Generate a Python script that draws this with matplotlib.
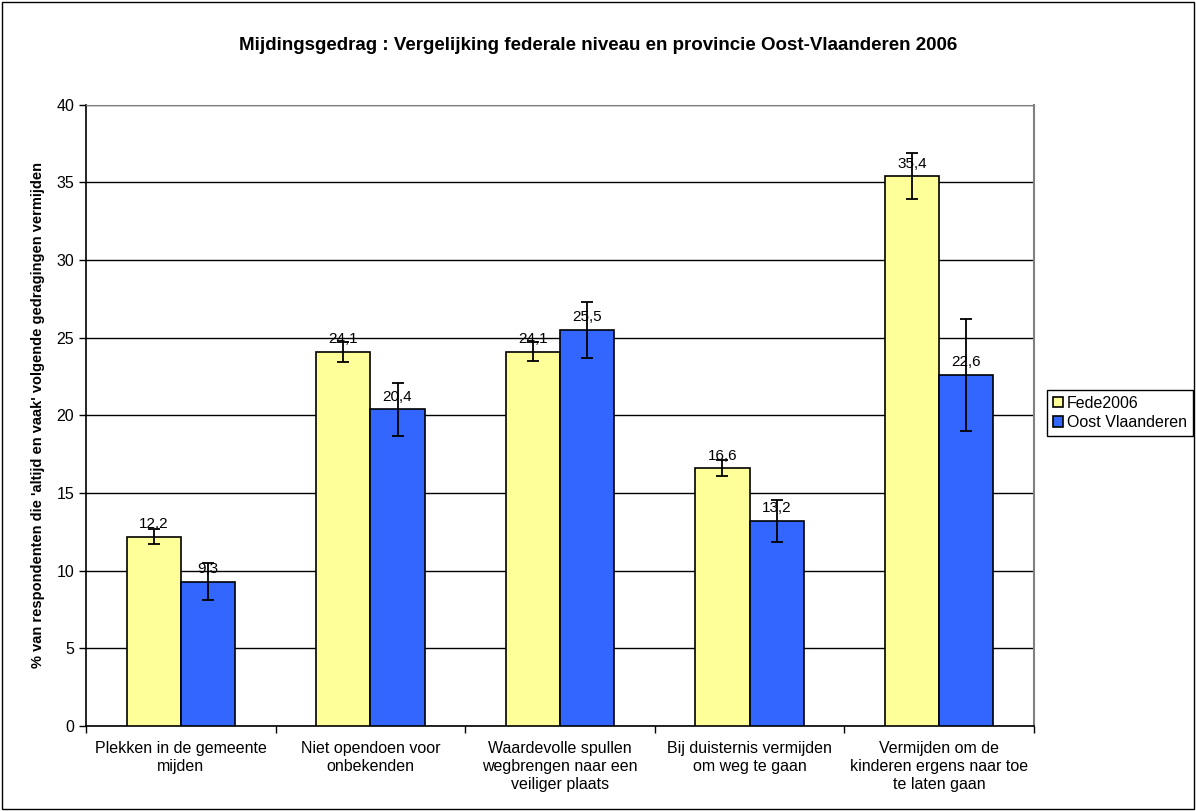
import numpy as np
import matplotlib.pyplot as plt
from matplotlib.patches import Rectangle

plt.rcParams['font.family'] = ['Liberation Sans', 'DejaVu Sans']

categories = ["Plekken in de gemeente\nmijden",
              "Niet opendoen voor\nonbekenden",
              "Waardevolle spullen\nwegbrengen naar een\nveiliger plaats",
              "Bij duisternis vermijden\nom weg te gaan",
              "Vermijden om de\nkinderen ergens naar toe\nte laten gaan"]
fede = [12.2, 24.1, 24.1, 16.6, 35.4]
fede_err = [0.5, 0.65, 0.6, 0.5, 1.5]
oost = [9.3, 20.4, 25.5, 13.2, 22.6]
oost_err = [1.2, 1.7, 1.8, 1.35, 3.6]
series_names = ["Fede2006", "Oost Vlaanderen"]

fig = plt.figure(figsize=(11.96, 8.11), dpi=100)
ax = fig.add_axes([86/1196, 1-726/811, (1034-86)/1196, (726-104.7)/811])

x = np.arange(len(categories))
w = 0.286

b1 = ax.bar(x - w/2, fede, w, color='#FFFF99', edgecolor='black', linewidth=1.2,
            label=series_names[0], zorder=3)
b2 = ax.bar(x + w/2, oost, w, color='#3366FF', edgecolor='black', linewidth=1.2,
            label=series_names[1], zorder=3)
ax.errorbar(x - w/2, fede, yerr=fede_err, fmt='none', ecolor='black', elinewidth=1.3,
            capsize=4, capthick=1.3, zorder=5)
ax.errorbar(x + w/2, oost, yerr=oost_err, fmt='none', ecolor='black', elinewidth=1.3,
            capsize=4, capthick=1.3, zorder=5)

for xs, vals in [(x - w/2, fede), (x + w/2, oost)]:
    for xi, v in zip(xs, vals):
        ax.annotate(f"{v:.1f}".replace('.', ','), (xi, v), xytext=(0, 4),
                    textcoords='offset points', ha='center', va='bottom',
                    fontsize=11, zorder=6)

ax.set_ylim(0, 40)
ax.set_xlim(-0.5, len(categories) - 0.5)
ax.set_yticks(range(0, 41, 5))
ax.yaxis.grid(True, color='black', linewidth=1)
ax.set_axisbelow(True)

ax.set_xticks(x)
ax.set_xticklabels(categories, fontsize=11.5, linespacing=1.25)
ax.tick_params(axis='x', length=0, pad=11)
ax.set_xticks(np.arange(-0.5, len(categories), 1), minor=True)
ax.tick_params(axis='x', which='minor', length=5, direction='out', width=1)
ax.tick_params(axis='y', labelsize=11.5, length=5, width=1, direction='out')

ax.spines['left'].set_color('black')
ax.spines['bottom'].set_color('black')
ax.spines['left'].set_linewidth(1.2)
ax.spines['bottom'].set_linewidth(1.2)
ax.spines['top'].set_color('#808080')
ax.spines['right'].set_color('#808080')
ax.spines['right'].set_linewidth(1.5)

ax.set_ylabel("% van respondenten die 'altijd en vaak' volgende gedragingen vermijden",
              fontsize=10.5, fontweight='bold', labelpad=8)

fig.suptitle("Mijdingsgedrag : Vergelijking federale niveau en provincie Oost-Vlaanderen 2006",
             fontsize=13.5, fontweight='bold', y=1-45/811, va='center')

leg = fig.legend(handles=[b1, b2], loc='upper left',
                 bbox_to_anchor=(1047/1196, 1-390/811), fontsize=11.5,
                 frameon=True, fancybox=False, edgecolor='black', framealpha=1,
                 handlelength=0.65, handleheight=0.65, handletextpad=0.25,
                 borderpad=0.35, labelspacing=0.3, borderaxespad=0)
leg.get_frame().set_linewidth(1)

fig.patches.append(Rectangle((0.002, 0.002), 0.996, 0.996, transform=fig.transFigure,
                             fill=False, edgecolor='black', linewidth=1))

fig.savefig('out.png', dpi=100)
plt.close(fig)
